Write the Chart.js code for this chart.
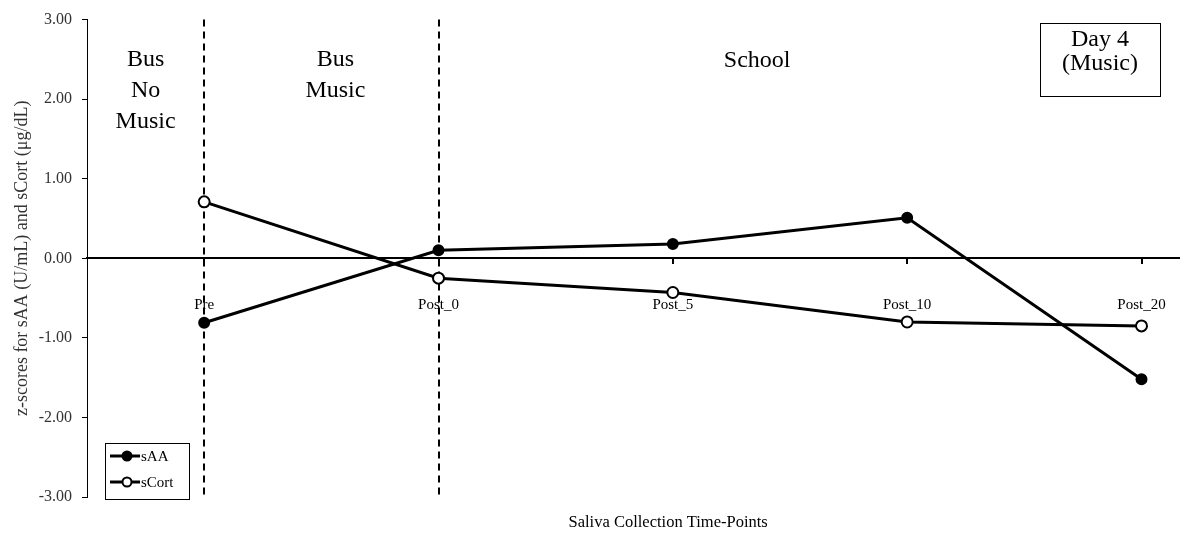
<!DOCTYPE html>
<html>
<head>
<meta charset="utf-8">
<script src="https://cdn.jsdelivr.net/npm/chart.js@4.4.1/dist/chart.umd.min.js"></script>
<style>
  html, body { margin: 0; padding: 0; background: #fff; }
  #wrap { width: 1192px; height: 540px; }
</style>
</head>
<body>
<div id="wrap"><canvas id="lineChart" width="1192" height="540"></canvas></div>
<script>
var timePoints = ['Pre', 'Post_0', 'Post_5', 'Post_10', 'Post_20'];
var saaScores = [-0.81, 0.10, 0.18, 0.51, -1.52];
var scortScores = [0.71, -0.25, -0.43, -0.80, -0.85];
var yTicks = [-3, -2, -1, 0, 1, 2, 3];
var phaseBreaks = [0, 1]; // dashed lines at Pre and Post_0

var serif = '"Liberation Serif", "Times New Roman", serif';

function toPoints(values) {
  return values.map(function (v, i) { return { x: i, y: v }; });
}

function noSidePadding(s) {
  s.paddingLeft = 0;
  s.paddingRight = 0;
}

// phase labels, dashed dividers, info box, legend and x title
var decorations = {
  id: 'decorations',
  beforeDatasetsDraw: function (chart) {
    var c = chart.ctx, x = chart.scales.x, area = chart.chartArea;
    c.save();
    c.strokeStyle = '#000';
    c.lineWidth = 2;
    c.setLineDash([7, 5]);
    phaseBreaks.forEach(function (v) {
      var px = Math.round(x.getPixelForValue(v));
      c.beginPath();
      c.moveTo(px, area.top);
      c.lineTo(px, area.bottom);
      c.stroke();
    });
    c.restore();
  },
  afterDatasetsDraw: function (chart) {
    var c = chart.ctx, x = chart.scales.x, area = chart.chartArea;
    c.save();
    c.fillStyle = '#000';
    c.textAlign = 'center';
    c.textBaseline = 'middle';
    c.font = '24px ' + serif;
    function lines(arr, xv, y0, step) {
      arr.forEach(function (t, i) { c.fillText(t, x.getPixelForValue(xv), y0 + i * step); });
    }
    lines(['Bus', 'No', 'Music'], -0.25, 60, 31);
    lines(['Bus', 'Music'], 0.56, 60, 31);
    lines(['School'], 2.36, 61, 31);

    // x axis title, sits a little right of centre
    c.font = '16.5px ' + serif;
    c.fillText('Saliva Collection Time-Points', x.getPixelForValue(1.98), 523);

    // day box
    var bx = area.right - 139, by = 23, bw = 120, bh = 73;
    c.lineWidth = 1;
    c.strokeStyle = '#000';
    c.strokeRect(bx + 0.5, by + 0.5, bw, bh);
    c.font = '24px ' + serif;
    c.fillText('Day 4', bx + bw / 2, by + 17);
    c.fillText('(Music)', bx + bw / 2, by + 41);

    // legend
    var lx = 105, ly = 443, lw = 84, lh = 56;
    c.strokeRect(lx + 0.5, ly + 0.5, lw, lh);
    c.font = '15px ' + serif;
    c.textAlign = 'left';
    chart.data.datasets.forEach(function (ds, i) {
      var yy = ly + 13 + i * 26;
      c.beginPath();
      c.lineWidth = 3;
      c.moveTo(lx + 5, yy);
      c.lineTo(lx + 35, yy);
      c.stroke();
      c.beginPath();
      c.lineWidth = 2;
      c.arc(lx + 22, yy, 4.5, 0, Math.PI * 2);
      c.fillStyle = ds.pointBackgroundColor;
      c.fill();
      c.stroke();
      c.fillStyle = '#000';
      c.fillText(ds.label, lx + 36, yy + 1);
    });
    c.restore();
  }
};

var ctx = document.getElementById('lineChart');

var myChart = new Chart(ctx, {
  type: 'line',
  data: {
    datasets: [{
      label: 'sAA',
      data: toPoints(saaScores),
      borderColor: '#000',
      borderWidth: 3,
      pointBackgroundColor: '#000',
      pointBorderColor: '#000',
      pointBorderWidth: 2,
      pointRadius: 5,
      tension: 0,
      xAxisID: 'x'
    }, {
      label: 'sCort',
      data: toPoints(scortScores),
      borderColor: '#000',
      borderWidth: 3,
      pointBackgroundColor: '#fff',
      pointBorderColor: '#000',
      pointBorderWidth: 2,
      pointRadius: 5.5,
      tension: 0,
      xAxisID: 'x'
    }]
  },
  options: {
    responsive: false,
    animation: false,
    layout: { padding: { top: 17, right: 13, left: 0, bottom: 0 } },
    plugins: {
      legend: { display: false },
      tooltip: { enabled: false }
    },
    scales: {
      x: {
        type: 'linear',
        position: 'bottom',
        min: -0.5,
        max: 4.16,
        ticks: { display: false },
        grid: { display: false },
        border: { display: false },
        afterFit: function (s) { noSidePadding(s); s.height = 43; }
      },
      xz: {
        type: 'linear',
        position: { y: 0 },
        min: -0.5,
        max: 4.16,
        afterBuildTicks: function (s) {
          s.ticks = timePoints.map(function (t, i) { return { value: i }; });
        },
        afterFit: noSidePadding,
        ticks: {
          color: '#000',
          padding: 33,
          maxRotation: 0,
          font: { family: serif, size: 15 },
          callback: function (v) { return timePoints[v]; }
        },
        grid: { drawOnChartArea: false, tickLength: 5, color: '#000', lineWidth: 2 },
        border: { display: true, color: '#000', width: 2 }
      },
      y: {
        min: -3,
        max: 3,
        afterBuildTicks: function (s) {
          s.ticks = yTicks.map(function (v) { return { value: v }; });
        },
        ticks: {
          color: '#333',
          padding: 10,
          font: { family: serif, size: 16 },
          callback: function (v) { return v.toFixed(2); }
        },
        grid: { drawOnChartArea: false, tickLength: 5, color: '#000' },
        border: { display: true, color: '#000', width: 1 },
        title: {
          display: true,
          text: 'z-scores for sAA (U/mL) and sCort (μg/dL)',
          color: '#333',
          font: { family: serif, size: 18 },
          padding: { top: 11, bottom: 6 }
        },
        afterFit: function (s) { s.width = 87; }
      }
    }
  },
  plugins: [decorations]
});
</script>
</body>
</html>
